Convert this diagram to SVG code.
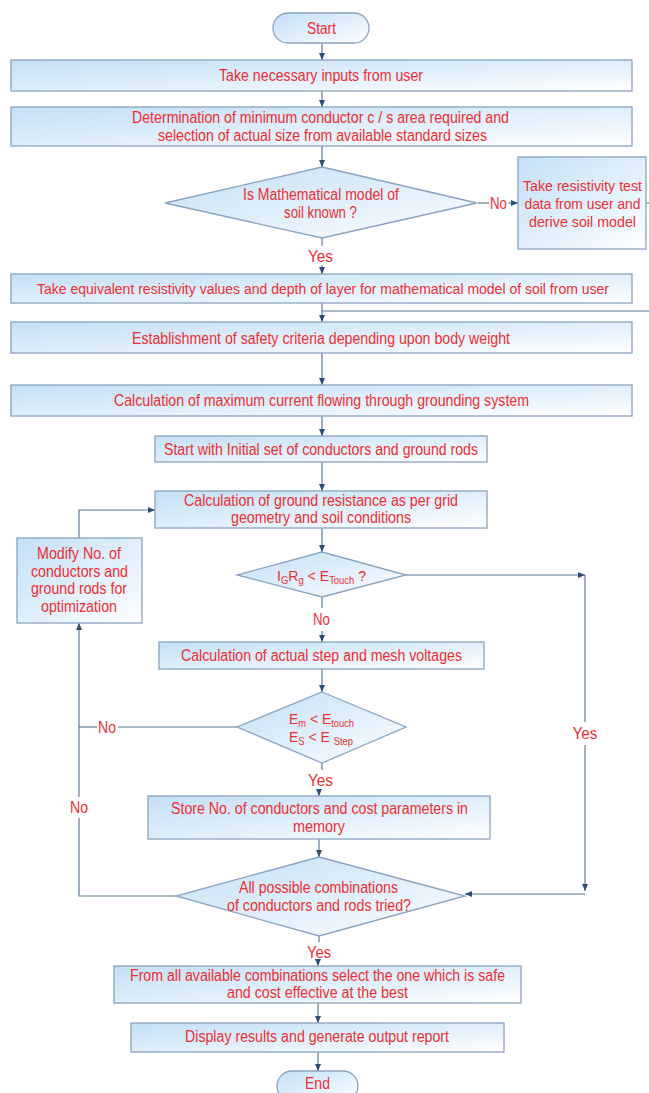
<svg xmlns="http://www.w3.org/2000/svg" width="649" height="1093" viewBox="0 0 649 1093">
<defs>
<linearGradient id="g" x1="0" y1="0" x2="1" y2="1">
<stop offset="0" stop-color="#c4dff5"/>
<stop offset="0.55" stop-color="#e2f0fb"/>
<stop offset="1" stop-color="#ffffff"/>
</linearGradient>
<marker id="ar" markerUnits="userSpaceOnUse" markerWidth="8" markerHeight="8" refX="7" refY="4" orient="auto">
<path d="M0,1 L7,4 L0,7 z" fill="#2d4d74"/>
</marker>
<style>
.n{fill:url(#g);stroke:#8aa3bf;stroke-width:1.3}
.t{font-family:"Liberation Sans",Arial,sans-serif;font-size:16px;fill:#ee2e33;text-anchor:middle}
.s{font-size:14px}
.f{font-family:"Liberation Sans",Arial,sans-serif;font-size:15px;fill:#ee2e33;white-space:pre}
.c{fill:none;stroke:#5d7a98;stroke-width:1.2}
.a{marker-end:url(#ar)}
</style>
</defs>
<rect width="649" height="1093" fill="#ffffff"/>

<g id="connectors">
<path class="c a" d="M322,43 V60"/>
<path class="c a" d="M322,91 V107"/>
<path class="c a" d="M322,146 V167"/>
<path class="c" d="M478,203 H489"/>
<path class="c a" d="M508,203 H518"/>
<path class="c" d="M322,238 V246"/>
<path class="c a" d="M322,265 V274"/>
<path class="c" d="M646,203 H660 V311 H322"/>
<path class="c a" d="M322,303 V322"/>
<path class="c a" d="M322,353 V385"/>
<path class="c a" d="M322,416 V436"/>
<path class="c a" d="M322,462 V491"/>
<path class="c a" d="M322,528 V552"/>
<path class="c a" d="M406,575 H585"/>
<path class="c" d="M585,575 V722"/>
<path class="c a" d="M585,745 V891"/>
<path class="c a" d="M585,894 H465"/>
<path class="c" d="M322,597 V608"/>
<path class="c a" d="M322,631 V642"/>
<path class="c a" d="M322,669 V692"/>
<path class="c" d="M237,727 H118"/>
<path class="c" d="M97,727 H79"/>
<path class="c" d="M322,763 V770"/>
<path class="c a" d="M319,789 V796"/>
<path class="c a" d="M319,839 V857"/>
<path class="c" d="M176,896 H79 V818"/>
<path class="c a" d="M79,797 V623"/>
<path class="c a" d="M79,538 V510 H155"/>
<path class="c" d="M319,936 V942"/>
<path class="c a" d="M318,960 V966"/>
<path class="c a" d="M318,1003 V1023"/>
<path class="c a" d="M318,1052 V1071"/>
<text class="t" x="498.5" y="208.5" textLength="17" lengthAdjust="spacingAndGlyphs">No</text>
<text class="t" x="320.5" y="261.5" textLength="25" lengthAdjust="spacingAndGlyphs">Yes</text>
<text class="t" x="585" y="738.5" textLength="25" lengthAdjust="spacingAndGlyphs">Yes</text>
<text class="t" x="321.5" y="624.5" textLength="17" lengthAdjust="spacingAndGlyphs">No</text>
<text class="t" x="107" y="732.5" textLength="18" lengthAdjust="spacingAndGlyphs">No</text>
<text class="t" x="320.5" y="785.5" textLength="25" lengthAdjust="spacingAndGlyphs">Yes</text>
<text class="t" x="79" y="812.5" textLength="18" lengthAdjust="spacingAndGlyphs">No</text>
<text class="t" x="319" y="957.5" textLength="24" lengthAdjust="spacingAndGlyphs">Yes</text>
</g>

<g id="start">
<rect class="n" x="273" y="13" width="96" height="30" rx="15"/>
<text class="t" x="321.5" y="33.5" textLength="29" lengthAdjust="spacingAndGlyphs">Start</text>
</g>
<g id="inputs">
<rect class="n" x="11" y="60" width="621" height="31"/>
<text class="t" x="321" y="81" textLength="204" lengthAdjust="spacingAndGlyphs">Take necessary inputs from user</text>
</g>
<g id="conductor-size">
<rect class="n" x="11" y="107" width="621" height="39"/>
<text class="t" x="320.5" y="122.5" textLength="377" lengthAdjust="spacingAndGlyphs">Determination of minimum conductor c / s area required and</text>
<text class="t" x="322.5" y="140.5" textLength="329" lengthAdjust="spacingAndGlyphs">selection of actual size from available standard sizes</text>
</g>
<g id="soil-known">
<polygon class="n" points="322,167 477,203 322,238 165,203"/>
<text class="t" x="321" y="199.5" textLength="156" lengthAdjust="spacingAndGlyphs">Is Mathematical model of</text>
<text class="t" x="320.5" y="217.5" textLength="73" lengthAdjust="spacingAndGlyphs">soil known ?</text>
</g>
<g id="resistivity-test">
<rect class="n" x="518" y="157" width="128" height="92"/>
<text class="t s" x="582.5" y="190.5" textLength="119" lengthAdjust="spacingAndGlyphs">Take resistivity test</text>
<text class="t s" x="582.5" y="208.5" textLength="116" lengthAdjust="spacingAndGlyphs">data from user and</text>
<text class="t s" x="582.5" y="226.5" textLength="107" lengthAdjust="spacingAndGlyphs">derive soil model</text>
</g>
<g id="equivalent-resistivity">
<rect class="n" x="11" y="274" width="621" height="29"/>
<text class="t s" x="323" y="293.5" textLength="572" lengthAdjust="spacingAndGlyphs">Take equivalent resistivity values and depth of layer for mathematical model of soil from user</text>
</g>
<g id="safety-criteria">
<rect class="n" x="11" y="322" width="621" height="31"/>
<text class="t" x="321" y="343.5" textLength="378" lengthAdjust="spacingAndGlyphs">Establishment of safety criteria depending upon body weight</text>
</g>
<g id="max-current">
<rect class="n" x="11" y="385" width="621" height="31"/>
<text class="t" x="321.5" y="406" textLength="415" lengthAdjust="spacingAndGlyphs">Calculation of maximum current flowing through grounding system</text>
</g>
<g id="initial-set">
<rect class="n" x="155" y="436" width="332" height="26"/>
<text class="t" x="321" y="454.5" textLength="314" lengthAdjust="spacingAndGlyphs">Start with Initial set of conductors and ground rods</text>
</g>
<g id="ground-resistance">
<rect class="n" x="155" y="491" width="332" height="37"/>
<text class="t" x="321" y="505.5" textLength="274" lengthAdjust="spacingAndGlyphs">Calculation of ground resistance as per grid</text>
<text class="t" x="321" y="522.5" textLength="180" lengthAdjust="spacingAndGlyphs">geometry and soil conditions</text>
</g>
<g id="modify">
<rect class="n" x="17" y="538" width="125" height="85"/>
<text class="t" x="79" y="558.5" textLength="84" lengthAdjust="spacingAndGlyphs">Modify No. of</text>
<text class="t" x="79.5" y="576.5" textLength="97" lengthAdjust="spacingAndGlyphs">conductors and</text>
<text class="t" x="79" y="593.5" textLength="96" lengthAdjust="spacingAndGlyphs">ground rods for</text>
<text class="t" x="79" y="611.5" textLength="76" lengthAdjust="spacingAndGlyphs">optimization</text>
</g>
<g id="touch-check">
<polygon class="n" points="322,552 406,575 322,597 237,575"/>
<text class="f" x="277" y="580.5" textLength="89" lengthAdjust="spacingAndGlyphs">I<tspan font-size="10" dy="3">G</tspan><tspan dy="-3">R</tspan><tspan font-size="10" dy="3">g</tspan><tspan dy="-3"> &lt; E</tspan><tspan font-size="10" dy="3">Touch</tspan><tspan dy="-3"> ?</tspan></text>
</g>
<g id="step-mesh">
<rect class="n" x="159" y="642" width="325" height="27"/>
<text class="t" x="321.5" y="660.5" textLength="281" lengthAdjust="spacingAndGlyphs">Calculation of actual step and mesh voltages</text>
</g>
<g id="voltage-check">
<polygon class="n" points="322,692 406,727 322,763 237,727"/>
<text class="f" x="289" y="723.5" textLength="65" lengthAdjust="spacingAndGlyphs">E<tspan font-size="10" dy="3">m</tspan><tspan dy="-3"> &lt; E</tspan><tspan font-size="10" dy="3">touch</tspan></text>
<text class="f" x="289" y="741.5" textLength="64" lengthAdjust="spacingAndGlyphs">E<tspan font-size="10" dy="3">S</tspan><tspan dy="-3"> &lt; E </tspan><tspan font-size="10" dy="3">Step</tspan></text>
</g>
<g id="store">
<rect class="n" x="148" y="796" width="342" height="43"/>
<text class="t" x="319.5" y="813.5" textLength="297" lengthAdjust="spacingAndGlyphs">Store No. of conductors and cost parameters in</text>
<text class="t" x="319" y="831.5" textLength="52" lengthAdjust="spacingAndGlyphs">memory</text>
</g>
<g id="all-tried">
<polygon class="n" points="319,857 465,896 319,936 176,896"/>
<text class="t" x="318.5" y="892.5" textLength="159" lengthAdjust="spacingAndGlyphs">All possible combinations</text>
<text class="t" x="319" y="910.5" textLength="184" lengthAdjust="spacingAndGlyphs">of conductors and rods tried?</text>
</g>
<g id="select">
<rect class="n" x="114" y="966" width="407" height="37"/>
<text class="t" x="317.5" y="980.5" textLength="375" lengthAdjust="spacingAndGlyphs">From all available combinations select the one which is safe</text>
<text class="t" x="317.5" y="997.5" textLength="181" lengthAdjust="spacingAndGlyphs">and cost effective at the best</text>
</g>
<g id="display">
<rect class="n" x="131" y="1023" width="373" height="29"/>
<text class="t" x="317" y="1041.5" textLength="264" lengthAdjust="spacingAndGlyphs">Display results and generate output report</text>
</g>
<g id="end">
<rect class="n" x="277" y="1071" width="81" height="30" rx="15"/>
<text class="t" x="317.5" y="1088.5" textLength="25" lengthAdjust="spacingAndGlyphs">End</text>
</g>
</svg>
